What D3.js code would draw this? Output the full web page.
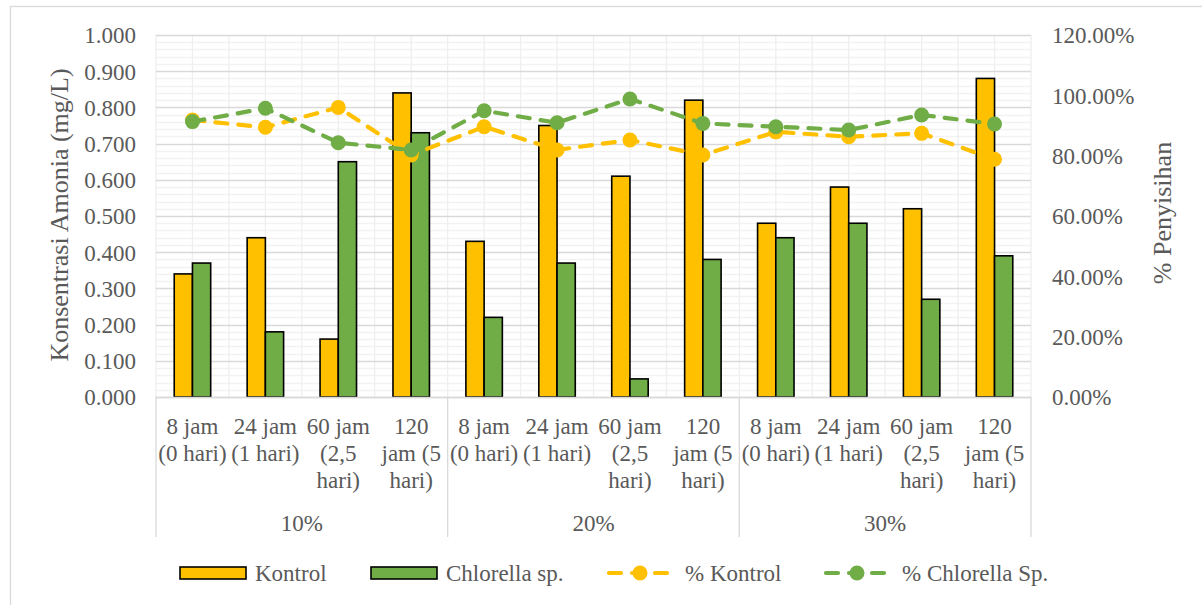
<!DOCTYPE html>
<html>
<head>
<meta charset="utf-8">
<script src="https://cdn.jsdelivr.net/npm/d3@7"></script>
<style>
  html, body { margin: 0; padding: 0; background: #fff; }
  svg { display: block; }
  svg text { font-family: "Liberation Serif", "Times New Roman", Tinos, "DejaVu Serif", serif !important; fill: #595959; }
</style>
</head>
<body>
<svg id="chart" width="1202" height="605" font-family="Liberation Serif, serif"></svg>
<script>
// Sampling times (multi-line labels) and treatment groups
const timeLabels = [
  ["8 jam", "(0 hari)"],
  ["24 jam", "(1 hari)"],
  ["60 jam", "(2,5", "hari)"],
  ["120", "jam (5", "hari)"]
];
const groups = ["10%", "20%", "30%"];

// Ammonia concentration (mg/L)
const kontrol   = [0.34, 0.44, 0.16, 0.84, 0.43, 0.75, 0.61, 0.82, 0.48, 0.58, 0.52, 0.88];
const chlorella = [0.37, 0.18, 0.65, 0.73, 0.22, 0.37, 0.05, 0.38, 0.44, 0.48, 0.27, 0.39];

// Removal percentage (%)
const pctKontrol   = [91.8, 89.4, 96.0, 80.2, 89.6, 81.9, 85.2, 80.2, 87.9, 86.3, 87.4, 78.8];
const pctChlorella = [91.3, 95.7, 84.3, 81.9, 94.9, 90.9, 98.8, 90.7, 89.6, 88.5, 93.5, 90.5];

// Axis ticks
const leftTicks  = [0, 0.1, 0.2, 0.3, 0.4, 0.5, 0.6, 0.7, 0.8, 0.9, 1.0];
const rightTicks = [0, 20, 40, 60, 80, 100, 120];

const barSeries = [
  { name: "Kontrol", values: kontrol, color: "#FFC000" },
  { name: "Chlorella sp.", values: chlorella, color: "#70AD47" }
];
const lineSeries = [
  { name: "% Kontrol", values: pctKontrol, color: "#FFC000" },
  { name: "% Chlorella Sp.", values: pctChlorella, color: "#70AD47" }
];

const svg = d3.select("#chart");
const plot = { left: 156, right: 1031, top: 35, bottom: 397 };
const FONT = "Liberation Serif, serif";

// Outer chart frame
svg.append("rect")
  .attr("x", 10.5).attr("y", 6.5)
  .attr("width", 1300).attr("height", 700)
  .attr("fill", "#fff").attr("stroke", "#d9d9d9").attr("stroke-width", 1.3);

// Category keys: one per group/time pair
const keys = [];
groups.forEach(g => timeLabels.forEach((t, i) => keys.push(g + "|" + i)));

const x = d3.scaleBand().domain(keys).range([plot.left, plot.right]).padding(0);
const xs = d3.scaleBand().domain(barSeries.map(s => s.name))
  .range([0, x.bandwidth()]).paddingInner(0).paddingOuter(1);
const y = d3.scaleLinear().domain([0, 1]).range([plot.bottom, plot.top]);
const y2 = d3.scaleLinear().domain([0, 120]).range([plot.bottom, plot.top]);

// Gridlines
const grid = svg.append("g");
const minorTicks = d3.range(0, 50).map(i => i * 0.02).filter((v, i) => i % 5 !== 0);
grid.selectAll("line.minor").data(minorTicks).join("line")
  .attr("x1", plot.left).attr("x2", plot.right)
  .attr("y1", d => Math.round(y(d)) + 0.5).attr("y2", d => Math.round(y(d)) + 0.5)
  .attr("stroke", "#f2f2f2").attr("stroke-width", 1.3);
const vGrid = d3.range(0, keys.length * 2 + 1).map(k => plot.left + k * x.step() / 2);
grid.selectAll("line.v").data(vGrid).join("line")
  .attr("x1", d => d).attr("x2", d => d)
  .attr("y1", plot.top).attr("y2", plot.bottom)
  .attr("stroke", "#efefef").attr("stroke-width", 1.3);
grid.selectAll("line.major").data(leftTicks).join("line")
  .attr("x1", plot.left).attr("x2", plot.right)
  .attr("y1", d => Math.round(y(d)) + 0.5).attr("y2", d => Math.round(y(d)) + 0.5)
  .attr("stroke", "#d9d9d9").attr("stroke-width", 1.3);

// Left axis
const yAxis = d3.axisLeft(y).tickValues(leftTicks).tickFormat(d3.format(".3f")).tickSize(0).tickPadding(0);
const gy = svg.append("g").attr("transform", `translate(${plot.left - 20},0)`).call(yAxis)
  .attr("font-family", FONT).attr("font-size", 23);
gy.select(".domain").remove();
gy.selectAll("text").attr("fill", "#595959").attr("dy", "0.34em");

// Right axis
const y2Axis = d3.axisRight(y2).tickValues(rightTicks).tickFormat(d => d.toFixed(2) + "%").tickSize(0).tickPadding(0);
const gy2 = svg.append("g").attr("transform", `translate(${plot.right + 21},0)`).call(y2Axis)
  .attr("font-family", FONT).attr("font-size", 23);
gy2.select(".domain").remove();
gy2.selectAll("text").attr("fill", "#595959").attr("dy", "0.34em");

// Axis titles
svg.append("text")
  .attr("transform", `translate(68,215) rotate(-90)`)
  .attr("text-anchor", "middle").attr("font-size", 26)
  .text("Konsentrasi Amonia (mg/L)");
svg.append("text")
  .attr("transform", `translate(1171,213) rotate(-90)`)
  .attr("text-anchor", "middle").attr("font-size", 26)
  .text("% Penyisihan");

// Bars
barSeries.forEach(s => {
  svg.append("g").selectAll("rect").data(s.values).join("rect")
    .attr("x", (d, i) => x(keys[i]) + xs(s.name))
    .attr("y", d => y(d))
    .attr("width", xs.bandwidth())
    .attr("height", d => y(0) - y(d))
    .attr("fill", s.color)
    .attr("stroke", "#000").attr("stroke-width", 1.6);
});

// Category axis baseline
svg.append("line")
  .attr("x1", plot.left).attr("x2", plot.right)
  .attr("y1", plot.bottom + 0.5).attr("y2", plot.bottom + 0.5)
  .attr("stroke", "#d9d9d9").attr("stroke-width", 1.3);

// Group dividers below axis
const dividers = groups.map(g => x(g + "|0")).concat([plot.right]);
svg.append("g").selectAll("line").data(dividers).join("line")
  .attr("x1", d => d).attr("x2", d => d)
  .attr("y1", plot.bottom).attr("y2", 537)
  .attr("stroke", "#d9d9d9").attr("stroke-width", 1.3);

// Time labels
const catG = svg.append("g");
keys.forEach((k, i) => {
  const lines = timeLabels[i % timeLabels.length];
  const cx = x(k) + x.bandwidth() / 2;
  const t = catG.append("text")
    .attr("x", cx).attr("y", 434)
    .attr("text-anchor", "middle").attr("font-size", 23);
  lines.forEach((ln, j) => {
    t.append("tspan").attr("x", cx).attr("dy", j === 0 ? 0 : 27).text(ln);
  });
});

// Group labels
svg.append("g").selectAll("text").data(groups).join("text")
  .attr("x", (g, i) => (dividers[i] + dividers[i + 1]) / 2)
  .attr("y", 531).attr("text-anchor", "middle").attr("font-size", 23)
  .text(d => d);

// Percentage lines with markers
const line = d3.line().x((d, i) => x(keys[i]) + x.bandwidth() / 2).y(d => y2(d));
lineSeries.forEach(s => {
  svg.append("path").datum(s.values)
    .attr("d", line).attr("fill", "none")
    .attr("stroke", s.color).attr("stroke-width", 4.2)
    .attr("stroke-linecap", "round").attr("stroke-dasharray", "12,11");
  svg.append("g").selectAll("circle").data(s.values).join("circle")
    .attr("cx", (d, i) => x(keys[i]) + x.bandwidth() / 2)
    .attr("cy", d => y2(d))
    .attr("r", 7.5).attr("fill", s.color);
});

// Legend
const legY = 573;
const leg = svg.append("g");
const barLegX = [180, 371];
barSeries.forEach((s, i) => {
  leg.append("rect").attr("x", barLegX[i]).attr("y", legY - 6)
    .attr("width", 66).attr("height", 12)
    .attr("fill", s.color).attr("stroke", "#000").attr("stroke-width", 1.6);
  leg.append("text").attr("x", barLegX[i] + 75).attr("y", legY + 8)
    .attr("font-size", 23).text(s.name);
});
const lineLegX = [607, 824];
lineSeries.forEach((s, i) => {
  leg.append("line").attr("x1", lineLegX[i] + 2).attr("x2", lineLegX[i] + 64)
    .attr("y1", legY).attr("y2", legY)
    .attr("stroke", s.color).attr("stroke-width", 4.2)
    .attr("stroke-linecap", "round").attr("stroke-dasharray", "12,11");
  leg.append("circle").attr("cx", lineLegX[i] + 33).attr("cy", legY)
    .attr("r", 7.5).attr("fill", s.color);
  leg.append("text").attr("x", lineLegX[i] + 78).attr("y", legY + 8)
    .attr("font-size", 23).text(s.name);
});
</script>
</body>
</html>
